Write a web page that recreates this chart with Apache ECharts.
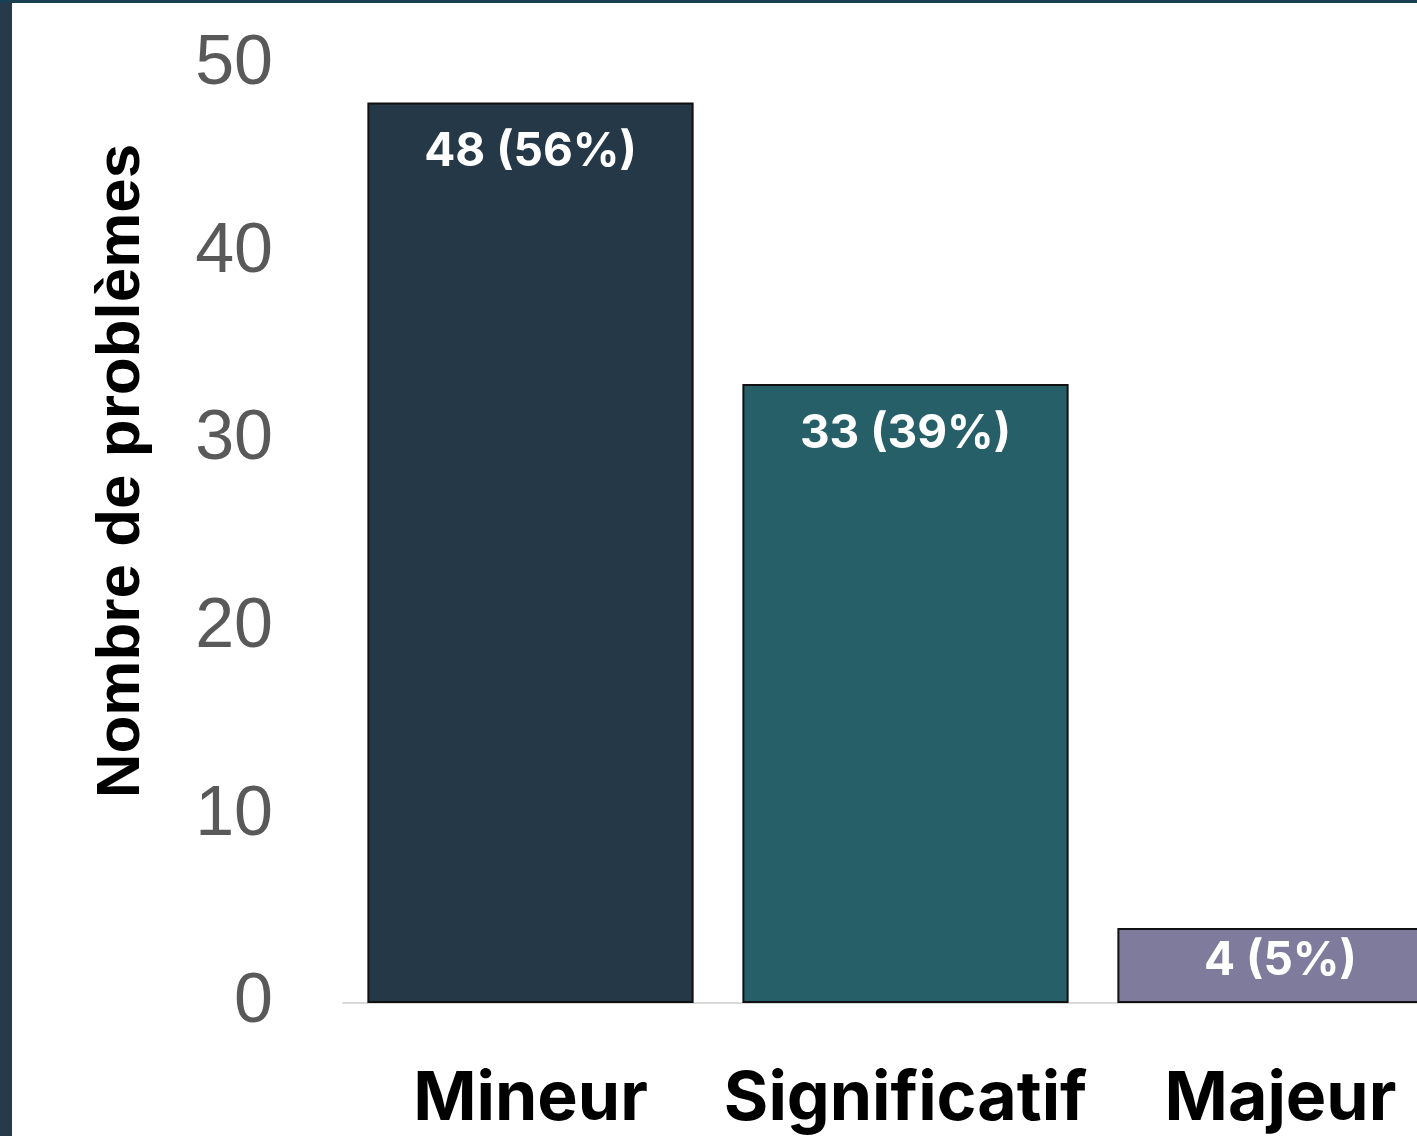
<!DOCTYPE html>
<html>
<head>
<meta charset="utf-8">
<script src="https://cdn.jsdelivr.net/npm/echarts@6/dist/echarts.min.js"></script>
<style>
  html, body { margin: 0; padding: 0; background: #fff; }
  #chart { width: 1417px; height: 1136px; }
</style>
</head>
<body>
<div id="chart"></div>
<script>
// donnees
var categories = ['Mineur', 'Significatif', 'Majeur'];
var counts = [48, 33, 4];
var percents = ['56%', '39%', '5%'];
var barColors = ['#253847', '#275f68', '#7f7b9c'];
var yTicks = [0, 10, 20, 30, 40, 50];

var seriesData = [];
for (var i = 0; i < counts.length; i++) {
    var item = {
        value: counts[i],
        pct: percents[i],
        itemStyle: { color: barColors[i] }
    };
    // barre basse : etiquette plus proche du haut
    if (counts[i] < 10) {
        item.label = { distance: 10 };
    }
    seriesData.push(item);
}

var option = {
    animation: false,
    backgroundColor: '#ffffff',
    graphic: [
        { type: 'rect', left: 0, top: 0, z: 100, shape: { width: 12, height: 1136 }, style: { fill: '#263a4a' } },
        { type: 'rect', left: 0, top: 0, z: 100, shape: { width: 1417, height: 3 }, style: { fill: '#193f52' } }
    ],
    grid: {
        left: 343,
        width: 1125,   // la derniere barre est coupee a droite
        top: 65,
        bottom: 133,
        outerBoundsMode: 'none',
        containLabel: false
    },
    xAxis: {
        type: 'category',
        data: categories,
        axisLine: { show: true, lineStyle: { color: '#d9d9d9', width: 2 } },
        axisTick: { show: false },
        axisLabel: {
            interval: 0,
            hideOverlap: false,
            margin: 63,
            color: '#000000',
            fontFamily: 'Inter',
            fontWeight: 'bold',
            fontSize: 68
        }
    },
    yAxis: {
        type: 'value',
        min: yTicks[0],
        max: yTicks[yTicks.length - 1],
        interval: 10,
        name: 'Nombre de problèmes',
        nameLocation: 'middle',
        nameGap: 190,
        nameRotate: 90,
        nameTextStyle: {
            color: '#000000',
            fontFamily: 'Liberation Sans',
            fontWeight: 'bold',
            fontSize: 62,
            padding: [0, 0, 0, 126]
        },
        axisLine: { show: false },
        axisTick: { show: false },
        splitLine: { show: false },
        axisLabel: {
            margin: 70,
            color: '#595959',
            fontFamily: 'Liberation Sans',
            fontSize: 70
        }
    },
    series: [
        {
            type: 'bar',
            data: seriesData,
            barCategoryGap: '13%',
            itemStyle: { borderColor: '#111111', borderWidth: 2 },
            label: {
                show: true,
                position: 'insideTop',
                distance: 27,
                color: '#ffffff',
                fontFamily: 'Inter',
                fontWeight: 'bold',
                fontSize: 46,
                formatter: function (p) {
                    return p.value + ' (' + p.data.pct + ')';
                }
            }
        }
    ]
};

var myChart = echarts.init(document.getElementById('chart'));
myChart.setOption(option);
</script>
</body>
</html>
